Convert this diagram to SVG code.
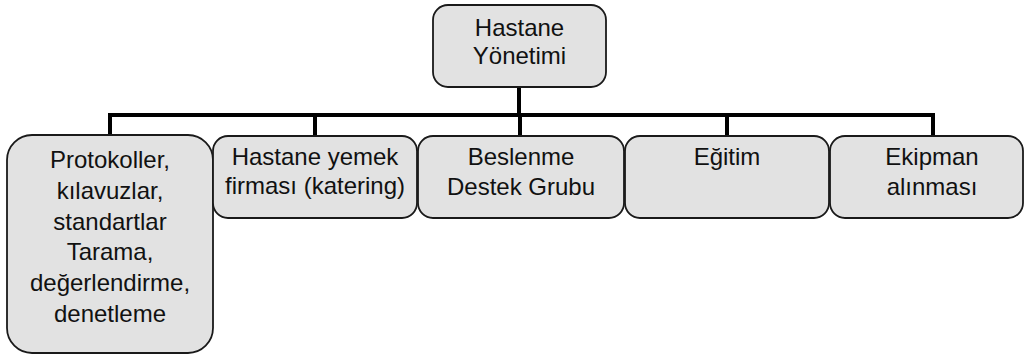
<svg xmlns="http://www.w3.org/2000/svg" width="1026" height="354" viewBox="0 0 1026 354">
<style>
.box{fill:#e2e2e2;stroke:#1a1a1a;stroke-width:1.8}
.t{font-family:"Liberation Sans",Arial,sans-serif;font-size:24px;fill:#111;text-anchor:middle}
.c{fill:none;stroke:#000;stroke-width:4;stroke-linecap:square}
</style>
<rect width="1026" height="354" fill="#fff"/>
<g id="connectors">
<path class="c" d="M519 87V115M110 115H933M110 115V135M315 115V135M520 115V135M727 115V135M933 115V135"/>
</g>
<g id="n-hastane">
<rect class="box" x="433" y="5" width="173" height="82" rx="15"/>
<text class="t" x="519.5" y="36">Hastane</text>
<text class="t" x="519.5" y="64">Yönetimi</text>
</g>
<g id="n-protokoller">
<rect class="box" x="7" y="135" width="206" height="218" rx="25"/>
<text class="t" x="110" y="168">Protokoller,</text>
<text class="t" x="110" y="199">kılavuzlar,</text>
<text class="t" x="110" y="230">standartlar</text>
<text class="t" x="110" y="260">Tarama,</text>
<text class="t" x="110" y="291">değerlendirme,</text>
<text class="t" x="110" y="322">denetleme</text>
</g>
<g id="n-yemek">
<rect class="box" x="213" y="136" width="204" height="82" rx="15"/>
<text class="t" x="315" y="165">Hastane yemek</text>
<text class="t" x="315" y="194">firması (katering)</text>
</g>
<g id="n-beslenme">
<rect class="box" x="418" y="136" width="206" height="82" rx="15"/>
<text class="t" x="521" y="165">Beslenme</text>
<text class="t" x="521" y="195">Destek Grubu</text>
</g>
<g id="n-egitim">
<rect class="box" x="625" y="136" width="204" height="82" rx="15"/>
<text class="t" x="727" y="165">Eğitim</text>
</g>
<g id="n-ekipman">
<rect class="box" x="830" y="136" width="193" height="82" rx="15"/>
<text class="t" x="932" y="165">Ekipman</text>
<text class="t" x="932" y="195">alınması</text>
</g>
</svg>
